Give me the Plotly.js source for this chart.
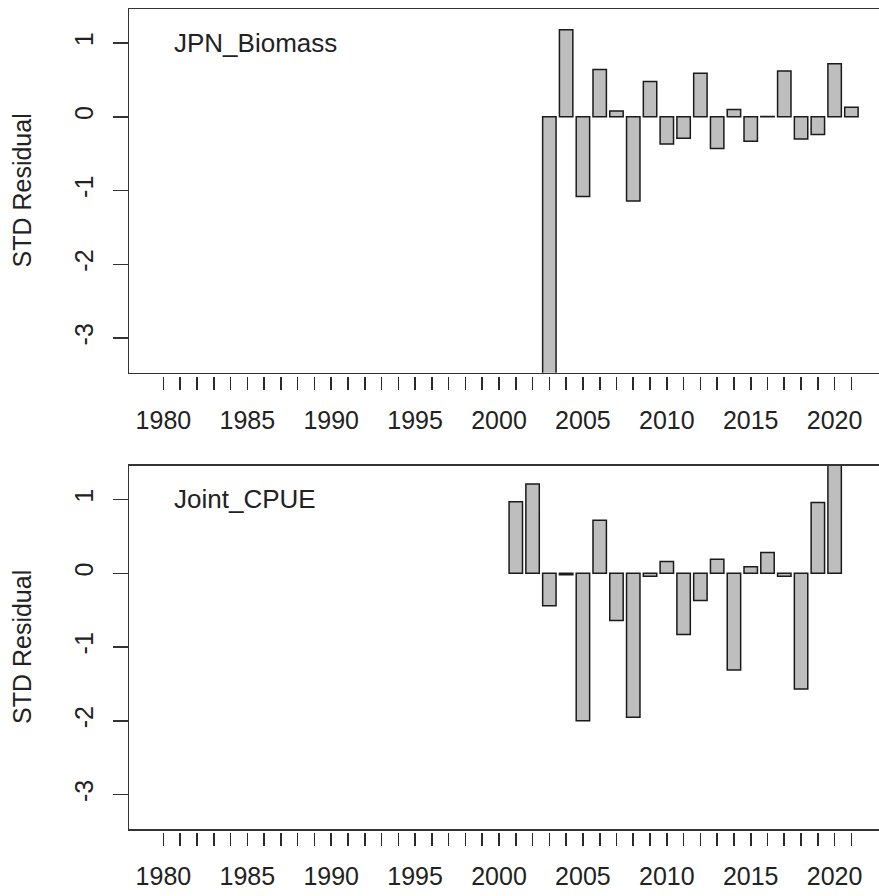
<!DOCTYPE html>
<html>
<head>
<meta charset="utf-8">
<script src="https://cdn.plot.ly/plotly-3.0.1.min.js"></script>
<style>
  html, body { margin: 0; padding: 0; overflow: hidden; background: #fff; }
  #chart { width: 890px; height: 896px; }
</style>
</head>
<body>
<div id="chart"></div>
<script>
// Standardised residuals by year for two indices
const jpnYears = [2003, 2004, 2005, 2006, 2007, 2008, 2009, 2010, 2011, 2012,
                  2013, 2014, 2015, 2016, 2017, 2018, 2019, 2020, 2021];
const jpnResid = [-3.6, 1.18, -1.08, 0.64, 0.08, -1.14, 0.48, -0.37, -0.29, 0.59,
                  -0.43, 0.10, -0.33, 0.004, 0.62, -0.30, -0.24, 0.72, 0.13];

const cpueYears = [2001, 2002, 2003, 2004, 2005, 2006, 2007, 2008, 2009, 2010,
                   2011, 2012, 2013, 2014, 2015, 2016, 2017, 2018, 2019, 2020];
const cpueResid = [0.97, 1.21, -0.44, -0.02, -2.00, 0.72, -0.64, -1.95, -0.04, 0.16,
                   -0.83, -0.37, 0.19, -1.31, 0.09, 0.28, -0.04, -1.57, 0.96, 1.60];

const panelLabels = ['JPN_Biomass', 'Joint_CPUE'];
const yTitle = 'STD Residual';
const yTickVals = [-3, -2, -1, 0, 1];

// one tick per year, labelled every five years
const tickYears = [];
for (let yr = 1980; yr <= 2021; yr++) tickYears.push(yr);
const tickLabels = tickYears.map(yr => (yr % 5 === 0 ? String(yr) : ''));

const W = 890, H = 896;
const px = v => v / W;          // horizontal pixel -> paper fraction
const py = v => 1 - v / H;      // vertical pixel -> paper fraction

const xRange = [1977.95, 2023.30];
const yRange = [-3.47, 1.458];
const xDomain = [px(129), 1];
const topDomain = [py(372.7), py(9.3)];
const botDomain = [py(829.3), py(465.7)];

const FONT = 'Liberation Sans, Arial, sans-serif';
const INK = '#222222';
const FRAME = '#333333';

const barStyle = {
  type: 'bar', width: 0.8,
  marker: { color: '#BEBEBE', line: { color: '#1a1a1a', width: 1.5 } },
  hoverinfo: 'x+y', showlegend: false
};

const traces = [
  Object.assign({}, barStyle, { x: jpnYears, y: jpnResid, xaxis: 'x', yaxis: 'y' }),
  Object.assign({}, barStyle, { x: cpueYears, y: cpueResid, xaxis: 'x2', yaxis: 'y2' }),
  // carriers for the year tick axes
  { type: 'scatter', mode: 'markers', x: [null], y: [null], xaxis: 'x3', yaxis: 'y', showlegend: false, hoverinfo: 'skip' },
  { type: 'scatter', mode: 'markers', x: [null], y: [null], xaxis: 'x4', yaxis: 'y2', showlegend: false, hoverinfo: 'skip' }
];

function frameX(anchor) {
  return {
    domain: xDomain, range: xRange, anchor: anchor,
    showline: true, mirror: true, linecolor: FRAME, linewidth: 1.5,
    ticks: '', showticklabels: false, showgrid: false, zeroline: false, fixedrange: true
  };
}
function frameY(domain, anchor) {
  return {
    domain: domain, range: yRange, anchor: anchor,
    showline: true, mirror: true, linecolor: FRAME, linewidth: 1.5,
    ticks: 'outside', ticklen: 15, tickwidth: 1.5, tickcolor: FRAME,
    tickmode: 'array', tickvals: yTickVals, ticktext: yTickVals.map(String),
    tickangle: -90, ticklabelstandoff: 10,
    tickfont: { family: FONT, size: 25, color: INK },
    showgrid: false, zeroline: false, fixedrange: true
  };
}
function yearAxis(base, posPx) {
  return {
    overlaying: base, anchor: 'free', position: py(posPx), side: 'bottom',
    domain: xDomain, range: xRange,
    showline: false, showgrid: false, zeroline: false,
    ticks: 'outside', ticklen: 13, tickwidth: 1.6, tickcolor: '#2a2a2a',
    tickmode: 'array', tickvals: tickYears, ticktext: tickLabels,
    ticklabelstandoff: 9,
    tickfont: { family: FONT, size: 25, color: INK }, fixedrange: true
  };
}

const annotations = [];
[[topDomain, 0], [botDomain, 1]].forEach(([dom, i]) => {
  const topPx = (1 - dom[1]) * H;
  const botPx = (1 - dom[0]) * H;
  annotations.push({
    xref: 'paper', yref: 'paper', x: px(172), y: py(topPx + 33.5),
    xanchor: 'left', yanchor: 'middle', showarrow: false,
    text: panelLabels[i], font: { family: FONT, size: 26, color: INK }
  });
  annotations.push({
    xref: 'paper', yref: 'paper', x: px(21.5), y: py((topPx + botPx) / 2),
    xanchor: 'center', yanchor: 'middle', showarrow: false, textangle: -90,
    text: yTitle, font: { family: FONT, size: 25, color: INK }
  });
});

const layout = {
  width: W, height: H,
  margin: { l: 0, r: 0, t: 0, b: 0 },
  paper_bgcolor: '#ffffff', plot_bgcolor: '#ffffff',
  showlegend: false, bargap: 0,
  font: { family: FONT, size: 25, color: INK },
  xaxis: frameX('y'),
  yaxis: frameY(topDomain, 'x'),
  xaxis2: frameX('y2'),
  yaxis2: frameY(botDomain, 'x2'),
  xaxis3: yearAxis('x', 375.7),
  xaxis4: yearAxis('x2', 832),
  annotations: annotations
};

Plotly.newPlot('chart', traces, layout, { staticPlot: true, displayModeBar: false });
</script>
</body>
</html>
